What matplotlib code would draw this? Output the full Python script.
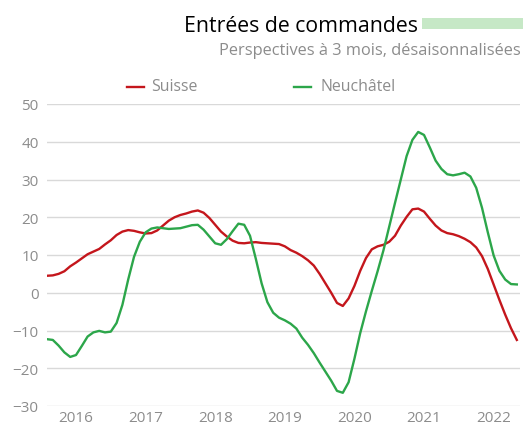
import numpy as np
import matplotlib.pyplot as plt
from matplotlib.lines import Line2D
from matplotlib.patches import Rectangle

# Données mensuelles, août 2015 - mai 2022
suisse = [4.5, 4.6, 5.0, 5.7, 7.0, 8.0, 9.1, 10.2, 10.9, 11.6, 12.8, 13.9,
          15.3, 16.2, 16.6, 16.4, 16.0, 15.7, 15.8, 16.5, 17.8, 19.1, 20.0, 20.6,
          21.0, 21.5, 21.8, 21.2, 19.8, 18.0, 16.2, 14.9, 13.8, 13.2, 13.1, 13.3,
          13.4, 13.2, 13.1, 13.0, 12.9, 12.3, 11.3, 10.6, 9.7, 8.6, 7.2, 5.0,
          2.5, 0.0, -2.7, -3.5, -1.5, 1.8, 5.8, 9.2, 11.5, 12.3, 12.7, 13.5,
          15.1, 17.8, 20.1, 22.1, 22.3, 21.5, 19.6, 17.8, 16.5, 15.8, 15.5, 15.0,
          14.3, 13.4, 12.0, 9.7, 6.3, 2.2, -1.9, -5.8, -9.4, -12.5]
neuchatel = [-12.3, -12.5, -14.0, -15.8, -17.0, -16.5, -14.1, -11.6, -10.5, -10.1, -10.5, -10.3,
             -8.0, -3.2, 3.5, 9.5, 13.5, 16.0, 17.0, 17.3, 17.1, 16.9, 17.0, 17.1,
             17.5, 17.9, 18.0, 16.7, 14.9, 13.1, 12.7, 14.2, 16.3, 18.3, 18.0, 15.1,
             9.0, 2.5, -2.5, -5.3, -6.6, -7.3, -8.2, -9.5, -11.9, -13.8, -16.0, -18.5,
             -20.9, -23.3, -26.0, -26.5, -23.7, -17.5, -10.7, -4.9, 0.5, 5.7, 11.2, 17.5,
             23.8, 30.0, 36.2, 40.5, 42.6, 41.8, 38.5, 35.0, 32.8, 31.4, 31.1, 31.4,
             31.8, 30.8, 27.8, 22.5, 16.0, 9.9, 5.8, 3.5, 2.3, 2.2]
annees = ['2016', '2017', '2018', '2019', '2020', '2021', '2022']
pos_annees = [5, 17, 29, 41, 53, 65, 77]  # janvier de chaque année (index du mois)
yticks = [-30, -20, -10, 0, 10, 20, 30, 40, 50]

rouge = '#c4161c'
vert = '#2ca64a'
gris = '#8c8c8c'
plt.rcParams['font.family'] = 'Open Sans'

W, H = 523, 427
fig = plt.figure(figsize=(W / 100, H / 100), dpi=100)
ax = fig.add_axes([47 / W, 1 - 407 / H, (520 - 47) / W, (407 - 105) / H])

mois = np.arange(len(suisse))
ax.plot(mois, suisse, color=rouge, lw=1.7, zorder=3)
ax.plot(mois, neuchatel, color=vert, lw=1.7, zorder=3)

ax.set_xlim(0, 81.55)
ax.set_ylim(-30, 50)
ax.set_yticks(yticks)
ax.set_xticks(pos_annees)
ax.set_xticklabels(annees)
ax.grid(axis='y', color='#d9d9d9', lw=1.0)
ax.tick_params(axis='both', length=0, colors=gris, labelsize=11)
ax.tick_params(axis='y', pad=6)
ax.tick_params(axis='x', pad=3)
for s in ax.spines.values():
    s.set_visible(False)

# Titre, sous-titre et barre verte
fig.text(418 / W, 1 - 32 / H, 'Entrées de commandes', ha='right', va='baseline',
         fontsize=15.3, color='black')
fig.add_artist(Rectangle((422 / W, 1 - 30 / H), (W - 422) / W, 11 / H,
                         transform=fig.transFigure, color='#c6e8c6', lw=0))
fig.text(521 / W, 1 - 55 / H, 'Perspectives à 3 mois, désaisonnalisées', ha='right',
         va='baseline', fontsize=11.8, color=gris)

# Légende
fig.add_artist(Line2D([127 / W, 144 / W], [1 - 87.5 / H] * 2, color=rouge, lw=1.7))
fig.text(151 / W, 1 - 87 / H, 'Suisse', va='center', fontsize=11.4, color=gris)
fig.add_artist(Line2D([294 / W, 311 / W], [1 - 87.5 / H] * 2, color=vert, lw=1.7))
fig.text(321 / W, 1 - 87 / H, 'Neuchâtel', va='center', fontsize=11.4, color=gris)

fig.savefig('out.png', dpi=100)
